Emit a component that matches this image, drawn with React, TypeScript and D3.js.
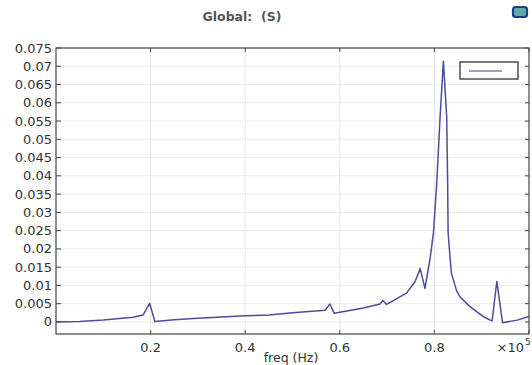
import React from "react";
import * as d3 from "d3";

const freq: number[] = [0.0, 0.05, 0.1, 0.163, 0.184, 0.198, 0.209, 0.25, 0.3, 0.4, 0.45, 0.5, 0.569, 0.579, 0.588, 0.65, 0.685, 0.691, 0.699, 0.741, 0.759, 0.77, 0.78, 0.791, 0.798, 0.805, 0.812, 0.819, 0.826, 0.828, 0.829, 0.833, 0.836, 0.847, 0.854, 0.875, 0.903, 0.918, 0.922, 0.932, 0.944, 0.975, 1.0];
const value: number[] = [0.0, 0.0001, 0.0005, 0.0013, 0.0019, 0.0051, 0.0001, 0.0006, 0.001, 0.0017, 0.0019, 0.0025, 0.0032, 0.0049, 0.0024, 0.0038, 0.0049, 0.0059, 0.0048, 0.0079, 0.011, 0.0146, 0.0092, 0.0175, 0.0244, 0.0381, 0.0561, 0.0714, 0.0561, 0.0381, 0.0244, 0.0178, 0.0133, 0.0085, 0.0069, 0.0042, 0.0015, 0.0005, 0.0003, 0.0111, -0.0002, 0.0005, 0.0015];

const xTicks: number[] = [0.2, 0.4, 0.6, 0.8, 1.0];
const xTickLabels: string[] = ["0.2", "0.4", "0.6", "0.8", ""];
const yTicks: number[] = [0, 0.005, 0.01, 0.015, 0.02, 0.025, 0.03, 0.035, 0.04, 0.045, 0.05, 0.055, 0.06, 0.065, 0.07, 0.075];
const title = "Global:  (S)";
const xLabel = "freq (Hz)";

export default function App() {
  const W = 532, H = 365;
  const L = 56, R = 529, T = 48, B = 334;
  const x = d3.scaleLinear().domain([0, 1]).range([L, R]);
  const y = d3.scaleLinear().domain([-0.0033, 0.075]).range([B, T]);
  const pts = freq.map((f, i) => [f, value[i]] as [number, number]);
  const line = d3.line<[number, number]>().x(d => x(d[0])).y(d => y(d[1]));
  const font = "DejaVu Sans, Verdana, sans-serif";
  const axisCol = "#444";
  const textCol = "#333";
  return (
    <svg width={W} height={H} style={{ position: "absolute", left: 0, top: 0, background: "#fff" }} fontFamily={font}>
      <rect x={0} y={0} width={W} height={H} fill="#fff" />
      <text x={242} y={21} textAnchor="middle" fontSize={12.5} fontWeight={600} fill="#555" style={{ whiteSpace: "pre" }}>{title}</text>
      <rect x={513} y={7} width={14} height={10} rx={2.5} fill="#5fa8a8" stroke="#1d3f8a" strokeWidth={2.2} />
      {/* grid */}
      {xTicks.slice(0, 4).map(t => (
        <line key={"gx" + t} x1={x(t)} x2={x(t)} y1={T} y2={B} stroke="#e6e6e6" strokeWidth={1} />
      ))}
      {yTicks.map(t => (
        <line key={"gy" + t} x1={L} x2={R} y1={y(t)} y2={y(t)} stroke="#ececec" strokeWidth={1} />
      ))}
      {/* data */}
      <path d={line(pts) || ""} fill="none" stroke="#4d4d9c" strokeWidth={1.5} strokeLinejoin="round" />
      {/* frame */}
      <rect x={L} y={T} width={R - L} height={B - T} fill="none" stroke={axisCol} strokeWidth={1.2} />
      {/* ticks */}
      {xTicks.map(t => (
        <g key={"tx" + t}>
          <line x1={x(t)} x2={x(t)} y1={B} y2={B - 4} stroke={axisCol} />
          <line x1={x(t)} x2={x(t)} y1={T} y2={T + 4} stroke={axisCol} />
        </g>
      ))}
      {yTicks.map(t => (
        <g key={"ty" + t}>
          <line x1={L} x2={L + 5} y1={y(t)} y2={y(t)} stroke={axisCol} />
          <line x1={R} x2={R - 4} y1={y(t)} y2={y(t)} stroke={axisCol} />
        </g>
      ))}
      {/* labels */}
      {yTicks.map(t => (
        <text key={"ly" + t} x={52} y={y(t) + 4.5} textAnchor="end" fontSize={13} fill={textCol}>{String(+t.toFixed(3))}</text>
      ))}
      {xTicks.map((t, i) => (
        <text key={"lx" + t} x={x(t)} y={352} textAnchor="middle" fontSize={13} fill={textCol}>{xTickLabels[i]}</text>
      ))}
      <text x={524} y={352} textAnchor="end" fontSize={13} fill={textCol}>×10</text>
      <text x={525} y={345} fontSize={9} fill={textCol}>5</text>
      <text x={291} y={362} textAnchor="middle" fontSize={12.5} fill={textCol}>{xLabel}</text>
      {/* legend */}
      <rect x={460} y={62} width={58} height={17} fill="#fff" stroke="#333" strokeWidth={1.3} />
      <line x1={469} x2={502} y1={71} y2={71} stroke="#7a80a8" strokeWidth={1.5} />
    </svg>
  );
}
